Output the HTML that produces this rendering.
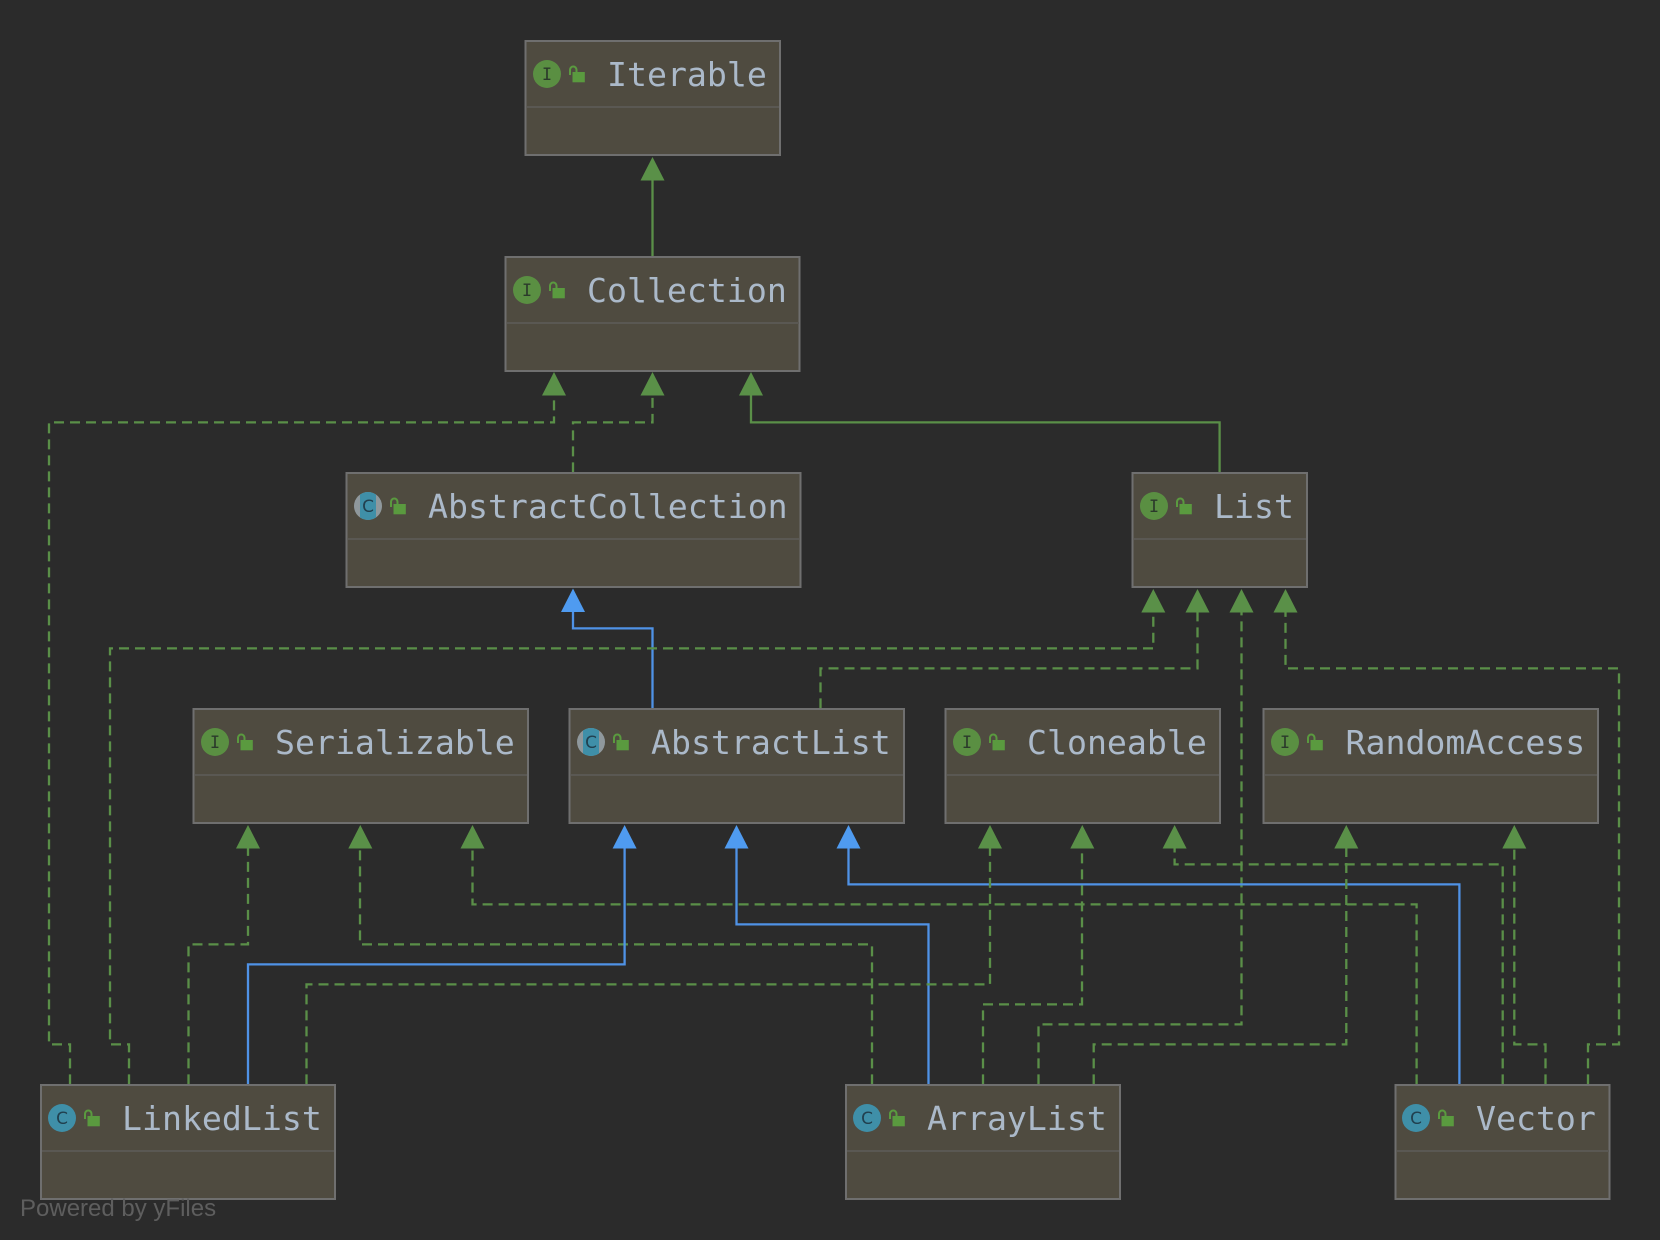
<!DOCTYPE html>
<html><head><meta charset="utf-8"><style>
html,body{margin:0;padding:0;background:#2b2b2b;width:1660px;height:1240px;overflow:hidden}
svg{display:block}
.n{fill:#4f4b40;stroke:#6f6f6f;stroke-width:2}
.dv{stroke:#5a5853;stroke-width:2}
.t{font-family:"DejaVu Sans Mono","Liberation Mono",monospace;font-size:33.2px;fill:#abb9c9}
.ic{font-family:"DejaVu Sans Mono","Liberation Mono",monospace;font-size:17px;fill:#2b3a2b;text-anchor:middle}
.cc{font-family:"DejaVu Sans","Liberation Sans",sans-serif;font-size:17px;fill:#21404f;text-anchor:middle}
.g{fill:none;stroke:#5a8f48;stroke-width:2.3}
.d{stroke-dasharray:10 6}
.b{fill:none;stroke:#4f92e6;stroke-width:2.3}
.ag{fill:#5a9048}.ab{fill:#4f9bf0}
</style></head><body>
<svg width="1660" height="1240" viewBox="0 0 1660 1240" xmlns="http://www.w3.org/2000/svg">
<defs>
<g id="lock"><rect x="0" y="-2" width="12.3" height="10.3" fill="#5a9a3f"/><path d="M-2.5 1V-4.2a3.25 3.25 0 0 1 6.5 0V-2" fill="none" stroke="#5a9a3f" stroke-width="2"/></g>
<clipPath id="cp"><circle cx="0" cy="0" r="14"/></clipPath>
<g id="ii"><circle r="14" fill="#5a8f42"/><text class="ic" x="0" y="6">I</text></g>
<g id="ci"><circle r="14" fill="#3f8fa8"/><text class="cc" x="0" y="6.2">C</text></g>
<g id="ai"><g clip-path="url(#cp)"><rect x="-14" y="-14" width="28" height="28" fill="#8f989c"/><rect x="-8" y="-14" width="16" height="28" fill="#3f8fa8"/></g><text class="cc" x="0" y="6.2">C</text></g>
</defs>
<rect width="1660" height="1240" fill="#2b2b2b"/>

<!-- edges -->
<g transform="translate(0,0.4)">
<path class="g" d="M652.5 256V178"/>
<path class="g d" d="M70 1084V1044H49V422H554V395"/>
<path class="g d" d="M573 472V422H652.5V395"/>
<path class="g" d="M1219.6 472V422H751V395"/>
<path class="b" d="M652.5 708V628H573V610"/>
<path class="g d" d="M129 1084V1044H110V648H1153.3V611"/>
<path class="g d" d="M820.5 708V668H1197.5V611"/>
<path class="g d" d="M1038.5 1084V1024H1241.5V611"/>
<path class="g d" d="M1588 1084V1044H1619V668H1285.5V611"/>
<path class="g d" d="M188.5 1084V944H248V847"/>
<path class="g d" d="M872 1084V944H360V847"/>
<path class="g d" d="M1416.6 1084V904H472.5V847"/>
<path class="b" d="M248 1084V964H624.6V847"/>
<path class="b" d="M928.5 1084V924H736.5V847"/>
<path class="b" d="M1459.4 1084V884H848.5V847"/>
<path class="g d" d="M306.5 1084V984H990V847"/>
<path class="g d" d="M983 1084V1004H1082V847"/>
<path class="g d" d="M1502.7 1084V864H1174.6V847"/>
<path class="g d" d="M1093.7 1084V1044H1346.3V847"/>
<path class="g d" d="M1545.5 1084V1044H1514.3V847"/>
</g>

<!-- arrows -->
<path class="ag" d="M652.5 157l12 23.5h-24z"/>
<path class="ag" d="M554 372l12 23.5h-24z"/>
<path class="ag" d="M652.5 372l12 23.5h-24z"/>
<path class="ag" d="M751 372l12 23.5h-24z"/>
<path class="ab" d="M573 588.5l12 23.5h-24z"/>
<path class="ag" d="M1153.3 589l12 23.5h-24z"/>
<path class="ag" d="M1197.5 589l12 23.5h-24z"/>
<path class="ag" d="M1241.5 589l12 23.5h-24z"/>
<path class="ag" d="M1285.5 589l12 23.5h-24z"/>
<path class="ag" d="M248 825l12 23.5h-24z"/>
<path class="ag" d="M360.3 825l12 23.5h-24z"/>
<path class="ag" d="M472.5 825l12 23.5h-24z"/>
<path class="ab" d="M624.6 825l12 23.5h-24z"/>
<path class="ab" d="M736.5 825l12 23.5h-24z"/>
<path class="ab" d="M848.5 825l12 23.5h-24z"/>
<path class="ag" d="M990 825l12 23.5h-24z"/>
<path class="ag" d="M1082.3 825l12 23.5h-24z"/>
<path class="ag" d="M1174.6 825l12 23.5h-24z"/>
<path class="ag" d="M1346.3 825l12 23.5h-24z"/>
<path class="ag" d="M1514.3 825l12 23.5h-24z"/>

<!-- nodes -->
<g transform="translate(525,41)"><rect class="n" x="0.5" y="0" width="254.5" height="114"/><line class="dv" x1="2" x2="254" y1="66" y2="66"/><use href="#ii" x="22" y="33"/><use href="#lock" x="47.5" y="33"/><text class="t" x="82" y="45">Iterable</text></g>
<g transform="translate(505,257)"><rect class="n" x="0.5" y="0" width="294" height="114"/><line class="dv" x1="2" x2="294" y1="66" y2="66"/><use href="#ii" x="22" y="33"/><use href="#lock" x="47.5" y="33"/><text class="t" x="82" y="45">Collection</text></g>
<g transform="translate(346,473)"><rect class="n" x="0.5" y="0" width="454" height="114"/><line class="dv" x1="2" x2="453" y1="66" y2="66"/><use href="#ai" x="22" y="33"/><use href="#lock" x="47.5" y="33"/><text class="t" x="82" y="45">AbstractCollection</text></g>
<g transform="translate(1132,473)"><rect class="n" x="0.5" y="0" width="174.5" height="114"/><line class="dv" x1="2" x2="174" y1="66" y2="66"/><use href="#ii" x="22" y="33"/><use href="#lock" x="47.5" y="33"/><text class="t" x="82" y="45">List</text></g>
<g transform="translate(193,709)"><rect class="n" x="0.5" y="0" width="334.5" height="114"/><line class="dv" x1="2" x2="334" y1="66" y2="66"/><use href="#ii" x="22" y="33"/><use href="#lock" x="47.5" y="33"/><text class="t" x="82" y="45">Serializable</text></g>
<g transform="translate(569,709)"><rect class="n" x="0.5" y="0" width="334.5" height="114"/><line class="dv" x1="2" x2="334" y1="66" y2="66"/><use href="#ai" x="22" y="33"/><use href="#lock" x="47.5" y="33"/><text class="t" x="82" y="45">AbstractList</text></g>
<g transform="translate(945,709)"><rect class="n" x="0.5" y="0" width="274.5" height="114"/><line class="dv" x1="2" x2="274" y1="66" y2="66"/><use href="#ii" x="22" y="33"/><use href="#lock" x="47.5" y="33"/><text class="t" x="82" y="45">Cloneable</text></g>
<g transform="translate(1263,709)"><rect class="n" x="0.5" y="0" width="334.5" height="114"/><line class="dv" x1="2" x2="334" y1="66" y2="66"/><use href="#ii" x="22" y="33"/><use href="#lock" x="47.5" y="33"/><text class="t" x="82.5" y="45">RandomAccess</text></g>
<g transform="translate(40,1085)"><rect class="n" x="1" y="0" width="294" height="114"/><line class="dv" x1="2" x2="294" y1="66" y2="66"/><use href="#ci" x="22" y="33"/><use href="#lock" x="47.5" y="33"/><text class="t" x="82" y="45">LinkedList</text></g>
<g transform="translate(845,1085)"><rect class="n" x="1" y="0" width="274" height="114"/><line class="dv" x1="2" x2="274" y1="66" y2="66"/><use href="#ci" x="22" y="33"/><use href="#lock" x="47.5" y="33"/><text class="t" x="82" y="45">ArrayList</text></g>
<g transform="translate(1395,1085)"><rect class="n" x="0.5" y="0" width="214" height="114"/><line class="dv" x1="2" x2="214" y1="66" y2="66"/><use href="#ci" x="21" y="33"/><use href="#lock" x="46.5" y="33"/><text class="t" x="81" y="45">Vector</text></g>

<text x="20" y="1216" font-family="'Liberation Sans',sans-serif" font-size="24" fill="#5e5e5e">Powered by yFiles</text>
</svg>
</body></html>
